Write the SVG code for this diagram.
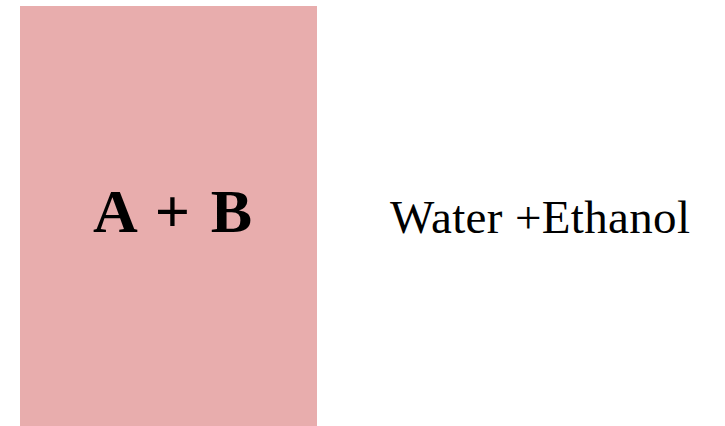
<svg xmlns="http://www.w3.org/2000/svg" width="725" height="426" viewBox="0 0 725 426">
<style>
.t{font-family:"Liberation Serif","Times New Roman",serif;fill:#000}
</style>
<rect width="725" height="426" fill="#fff"/>
<g id="node-ab">
<rect x="20" y="6" width="297" height="420" fill="#E8ADAD"/>
<text class="t" x="93" y="232" font-size="62" font-weight="bold" textLength="159" lengthAdjust="spacing">A + B</text>
</g>
<g id="node-label">
<text class="t" x="390" y="233" font-size="47" textLength="300" lengthAdjust="spacing">Water +Ethanol</text>
</g>
<g id="connectors"></g>
</svg>
